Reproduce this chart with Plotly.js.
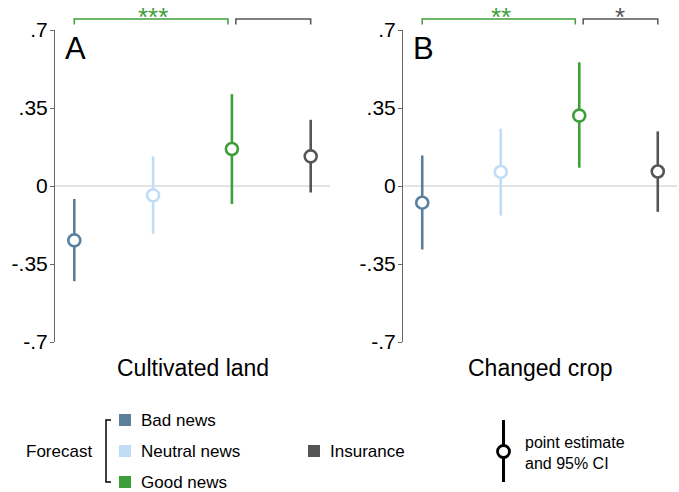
<!DOCTYPE html>
<html>
<head>
<meta charset="utf-8">
<script src="https://cdn.plot.ly/plotly-3.0.1.min.js"></script>
<style>html,body{margin:0;padding:0;background:#fff;}#chart{width:679px;height:492px;}</style>
</head>
<body>
<div id="chart"></div>
<script>
// ---- data ----
const groups = ["Bad news", "Neutral news", "Good news", "Insurance"];
const groupX = [1, 2, 3, 4];
const colors = ["#5b809d", "#c0dcf7", "#3e9e3a", "#555555"];

// Panel A: Cultivated land
const landEst = [-0.244, -0.042, 0.166, 0.133];
const landLo  = [-0.427, -0.214, -0.081, -0.029];
const landHi  = [-0.058, 0.133, 0.412, 0.297];

// Panel B: Changed crop
const cropEst = [-0.075, 0.063, 0.316, 0.065];
const cropLo  = [-0.285, -0.133, 0.082, -0.116];
const cropHi  = [0.137, 0.257, 0.555, 0.245];

const yTickVals = [-0.7, -0.35, 0, 0.35, 0.7];
const yTickText = ["-.7", "-.35", "0", ".35", ".7"];
const panelTitles = ["Cultivated land", "Changed crop"];
const panelLetters = ["A", "B"];
const starsGood = ["***", "**"];
const starsIns = ["", "*"];
const ciLegendText = "point estimate<br>and 95% CI";
const forecastLabel = "Forecast";

const FONT = "Liberation Sans, Arial, Helvetica, sans-serif";
const W = 679, H = 492, TOP = 30, BOT = 342;
const px = v => v / W;
const py = v => (BOT - v) / (BOT - TOP);

const traces = [];
function addPanel(est, lo, hi, xa, ya) {
  for (let i = 0; i < groups.length; i++) {
    traces.push({
      type: "scatter", mode: "markers",
      x: [groupX[i]], y: [est[i]],
      xaxis: xa, yaxis: ya,
      name: groups[i], showlegend: false, hoverinfo: "skip",
      error_y: {type: "data", symmetric: false,
        array: [hi[i] - est[i]], arrayminus: [est[i] - lo[i]],
        color: colors[i], thickness: 2.6, width: 0},
      marker: {symbol: "circle", size: 12, color: "#ffffff",
        line: {color: colors[i], width: 2.6}}
    });
  }
}
addPanel(landEst, landLo, landHi, "x", "y");
addPanel(cropEst, cropLo, cropHi, "x2", "y2");

const yax = {
  range: [-0.7, 0.7], tickvals: yTickVals, ticktext: yTickText,
  showgrid: false, zeroline: true, zerolinecolor: "#e3e3e3", zerolinewidth: 1.5,
  showline: true, linecolor: "#666666", linewidth: 1,
  ticks: "outside", ticklen: 4, tickcolor: "#666666",
  ticklabelstandoff: -2,
  tickfont: {family: FONT, size: 21, color: "#000"}, fixedrange: true
};
const xax = {range: [0.755, 4.245], showgrid: false, zeroline: false,
  showline: false, showticklabels: false, ticks: "", fixedrange: true};

const shapes = [], annotations = [];
const panelXRefs = ["x", "x2"];
const panelDomRefs = ["x domain", "x2 domain"];
for (let p = 0; p < 2; p++) {
  const xr = panelXRefs[p];
  const yTop = py(19), yEnd = py(24.5);
  const br = [[1, 2.95, colors[2]], [3.05, 4, colors[3]]];
  br.forEach(b => {
    shapes.push({type: "path", xref: xr, yref: "paper",
      path: `M ${b[0]},${yEnd} L ${b[0]},${yTop} L ${b[1]},${yTop} L ${b[1]},${yEnd}`,
      line: {color: b[2], width: 1.5}});
  });
  if (starsGood[p]) annotations.push({xref: xr, yref: "paper", x: 2, y: py(0), yanchor: "top",
    text: starsGood[p], showarrow: false, font: {family: FONT, size: 26, color: colors[2]}});
  if (starsIns[p]) annotations.push({xref: xr, yref: "paper", x: 3.52, y: py(0), yanchor: "top",
    text: starsIns[p], showarrow: false, font: {family: FONT, size: 26, color: colors[3]}});
  annotations.push({xref: panelDomRefs[p], yref: "paper", x: 0.03, y: py(48), xanchor: "left", yanchor: "middle",
    text: panelLetters[p], showarrow: false, font: {family: FONT, size: 31, color: "#000"}});
  annotations.push({xref: panelDomRefs[p], yref: "paper", x: 0.5, y: py(368), xanchor: "center", yanchor: "middle",
    text: panelTitles[p], showarrow: false, font: {family: FONT, size: 23, color: "#000"}});
}

// ---- legend (drawn) ----
const legFont = {family: FONT, size: 17, color: "#000"};
annotations.push({xref: "paper", yref: "paper", x: px(24), y: py(451), xanchor: "left", yanchor: "middle",
  text: forecastLabel, showarrow: false, font: legFont});
shapes.push({type: "path", xref: "paper", yref: "paper",
  path: `M ${px(111)},${py(420)} L ${px(106)},${py(420)} L ${px(106)},${py(482)} L ${px(111)},${py(482)}`,
  line: {color: "#000", width: 1.5}});
const legRows = [420, 451, 482];
for (let i = 0; i < 3; i++) {
  shapes.push({type: "rect", xref: "paper", yref: "paper",
    x0: px(119), x1: px(131), y0: py(legRows[i] - 6), y1: py(legRows[i] + 6),
    fillcolor: colors[i], line: {width: 0}});
  annotations.push({xref: "paper", yref: "paper", x: px(139), y: py(legRows[i]), xanchor: "left", yanchor: "middle",
    text: groups[i], showarrow: false, font: legFont});
}
shapes.push({type: "rect", xref: "paper", yref: "paper",
  x0: px(308), x1: px(320), y0: py(445), y1: py(457), fillcolor: colors[3], line: {width: 0}});
annotations.push({xref: "paper", yref: "paper", x: px(328), y: py(451), xanchor: "left", yanchor: "middle",
  text: groups[3], showarrow: false, font: legFont});
// point estimate icon
shapes.push({type: "line", xref: "paper", yref: "paper", x0: px(503.5), x1: px(503.5), y0: py(420), y1: py(482),
  line: {color: "#000", width: 3}});
shapes.push({type: "circle", xref: "paper", yref: "paper", x0: px(497.5), x1: px(509.5), y0: py(445.5), y1: py(457.5),
  fillcolor: "#fff", line: {color: "#000", width: 2.8}});
annotations.push({xref: "paper", yref: "paper", x: px(523), y: py(453), xanchor: "left", yanchor: "middle",
  align: "left", text: ciLegendText, showarrow: false, font: {family: FONT, size: 16, color: "#000"}});

const layout = {
  width: W, height: H,
  margin: {l: 0, r: 0, t: TOP, b: H - BOT, pad: 0},
  paper_bgcolor: "#fff", plot_bgcolor: "#fff",
  showlegend: false,
  xaxis: Object.assign({}, xax, {domain: [55 / W, 330 / W], anchor: "y"}),
  xaxis2: Object.assign({}, xax, {domain: [403 / W, 677 / W], anchor: "y2"}),
  yaxis: Object.assign({}, yax, {anchor: "x"}),
  yaxis2: Object.assign({}, yax, {anchor: "x2"}),
  shapes: shapes, annotations: annotations
};
Plotly.newPlot("chart", traces, layout, {displayModeBar: false, staticPlot: true});
</script>
</body>
</html>
